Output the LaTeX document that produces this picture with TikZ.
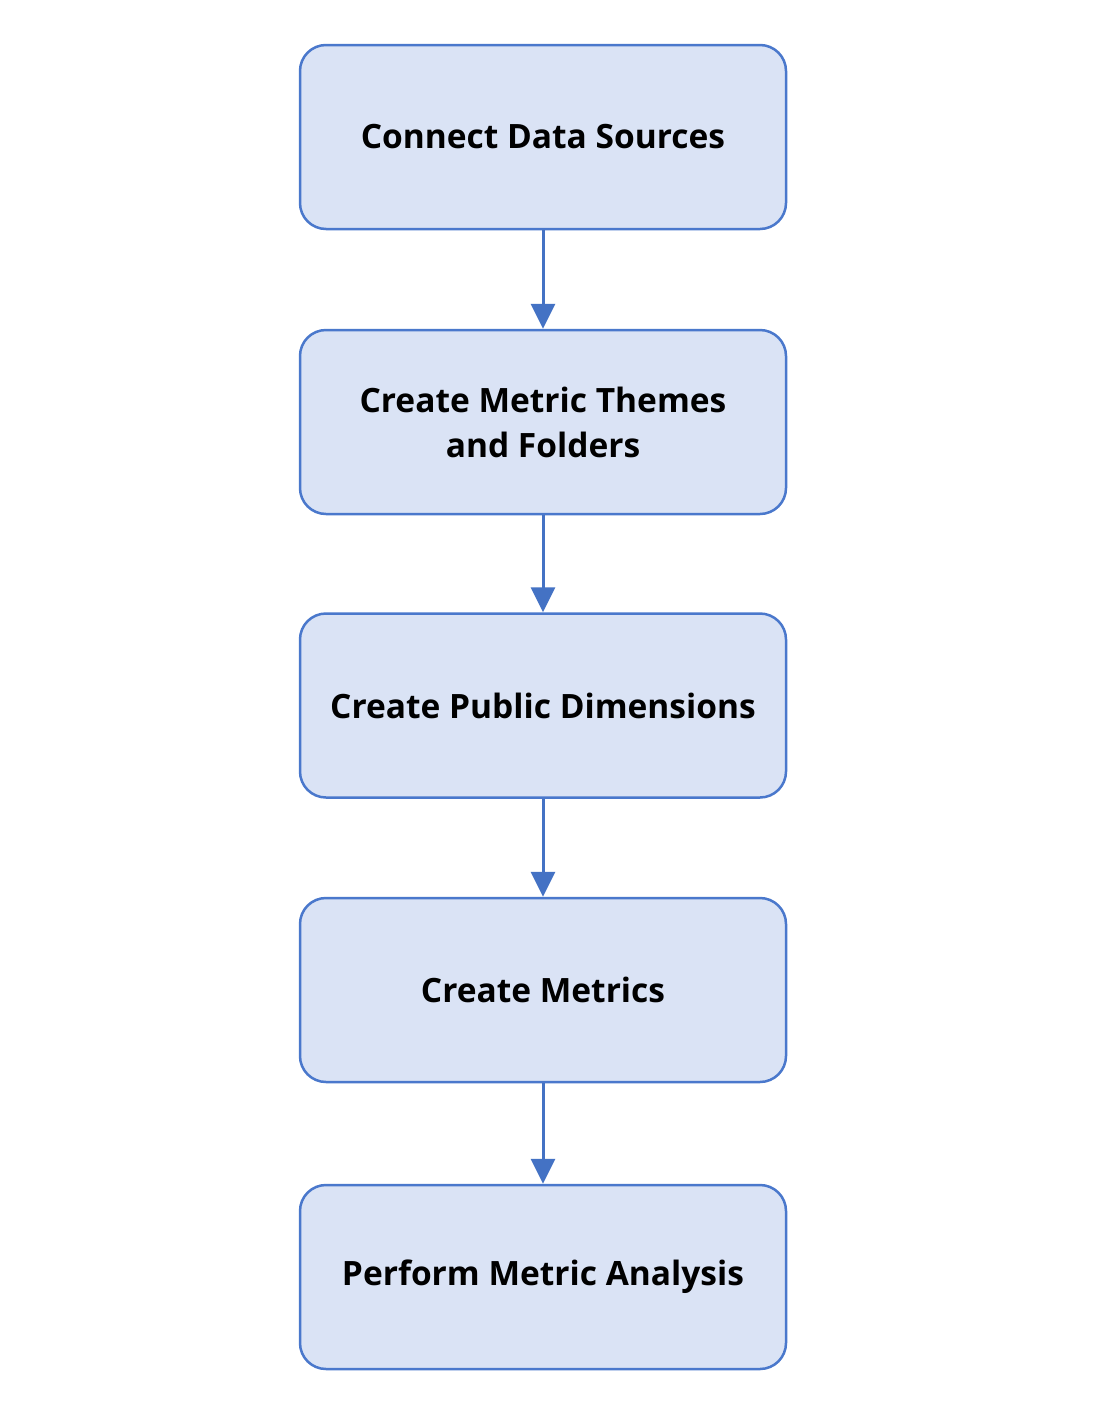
\documentclass[tikz,border=0pt]{standalone}
\usepackage{fontspec}
\setmainfont{Open Sans}
\usetikzlibrary{arrows.meta}
\definecolor{boxfill}{HTML}{DAE3F5}
\definecolor{boxline}{HTML}{4A78CC}
\definecolor{arrowc}{HTML}{4472C4}
\begin{document}
\begin{tikzpicture}[x=1pt,y=-1pt,
  stepbox/.style={draw=boxline, fill=boxfill, line width=2.5pt, rounded corners=26pt,
    minimum width=486pt, minimum height=184pt, align=center,
    font=\fontsize{33.5}{45}\selectfont\bfseries, text=black, inner sep=0pt},
  flow/.style={draw=arrowc, line width=3pt, -{Triangle[width=24pt,length=25pt]}}]
\useasboundingbox (0,0) rectangle (1113,1414);
\fill[white] (0,0) rectangle (1113,1414);
\node[stepbox] (s1) at (543,137) {Connect Data Sources};
\node[stepbox] (s2) at (543,422) {Create Metric Themes\\and Folders};
\node[stepbox] (s3) at (543,705.5) {Create Public Dimensions};
\node[stepbox] (s4) at (543,990) {Create Metrics};
\node[stepbox] (s5) at (543,1277) {Perform Metric Analysis};
\draw[flow] (s1) -- (s2);
\draw[flow] (s2) -- (s3);
\draw[flow] (s3) -- (s4);
\draw[flow] (s4) -- (s5);
\end{tikzpicture}
\end{document}
